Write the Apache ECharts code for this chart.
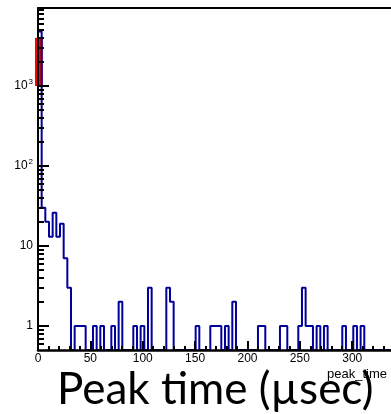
<!DOCTYPE html>
<html><head><meta charset="utf-8">
<script src="https://cdn.jsdelivr.net/npm/echarts@6/dist/echarts.min.js"></script>
<style>html,body{margin:0;padding:0;background:#fff;}#c{width:391px;height:414px;}</style>
</head><body><div id="c"></div>
<script>
// ---- data ----
const binWidth = 3.5;
const binStart = 0;
const counts = [
  4800, 30, 20, 13, 26, 13, 19, 7, 3, 0,   // 0-9
  1, 1, 1, 0, 0, 1, 0, 1, 0, 0,            // 10-19
  1, 0, 2, 0, 0, 0, 1, 0, 1, 0,            // 20-29
  3, 0, 0, 0, 0, 3, 2, 0, 0, 0,            // 30-39
  0, 0, 0, 1, 0, 0, 0, 1, 1, 1,            // 40-49
  0, 1, 0, 2, 0, 0, 0, 0, 0, 0,            // 50-59
  1, 1, 0, 0, 0, 0, 1, 1, 0, 0,            // 60-69
  0, 1, 3, 1, 1, 0, 1, 0, 1, 0,            // 70-79
  0, 0, 0, 1, 0, 0, 1, 0, 1, 0,            // 80-89
  0, 0, 0, 0, 0, 0, 0                      // 90-96
];
const redBox = [[-2.9, 4.5, 1000, 4000]];
const xLabelValues = [0, 50, 100, 150, 200, 250, 300];
const xMinorValues = [10, 20, 30, 40, 60, 70, 80, 90, 110, 120, 130, 140, 160, 170, 180, 190, 210, 220, 230, 240, 260, 270, 280, 290, 310, 320, 330];
const yMajorValues = [1, 10, 100, 1000];
const yMajorLabels = ['1', '10', '10{s|2}', '10{s|3}'];
const yMinorValues = [0.6, 0.7, 0.8, 0.9, 2, 3, 4, 5, 6, 7, 8, 9, 20, 30, 40, 50, 60, 70, 80, 90, 200, 300, 400, 500, 600, 700, 800, 900, 2000, 3000, 4000, 5000, 6000, 7000, 8000, 9000];
const xMin = 0, xMax = 337;
const yMin = 0.5, yMax = 9440;
const xTitle = 'peak_time';
const bigTitle = 'Peak time (µsec)';

// ---- build step outline ----
const steps = [[binStart, yMin]];
counts.forEach((c, i) => {
  const v = Math.max(c, yMin);
  steps.push([binStart + i * binWidth, v]);
  steps.push([binStart + (i + 1) * binWidth, v]);
});

const chart = echarts.init(document.getElementById('c'), null, {renderer: 'canvas'});
const F = 'Liberation Sans, Arial, sans-serif';
chart.setOption({
  animation: false,
  backgroundColor: '#fff',
  grid: {left: 38, right: 0, top: 8, bottom: 64, containLabel: false},
  xAxis: [
    {type: 'value', min: xMin, max: xMax, position: 'bottom', z: 5,
     axisLine: {show: true, onZero: false, lineStyle: {color: '#000', width: 2.5}},
     axisTick: {show: true, inside: true, length: 9, lineStyle: {color: '#000', width: 2}, customValues: xLabelValues},
     axisLabel: {show: true, customValues: xLabelValues, color: '#000', fontFamily: F, fontSize: 12, margin: 3},
     splitLine: {show: false}},
    {type: 'value', min: xMin, max: xMax, position: 'bottom', z: 5,
     axisLine: {show: false},
     axisTick: {show: true, inside: true, length: 4, lineStyle: {color: '#000', width: 2}, customValues: xMinorValues},
     axisLabel: {show: false}, splitLine: {show: false}},
    {type: 'value', min: xMin, max: xMax, position: 'top', z: 5,
     axisLine: {show: true, onZero: false, lineStyle: {color: '#000', width: 2}},
     axisTick: {show: false}, axisLabel: {show: false}, splitLine: {show: false}}
  ],
  yAxis: [
    {type: 'log', logBase: 10, min: yMin, max: yMax, position: 'left', z: 5,
     axisLine: {show: true, onZero: false, lineStyle: {color: '#000', width: 2}},
     axisTick: {show: true, inside: true, length: 11, lineStyle: {color: '#000', width: 2}, customValues: yMajorValues},
     axisLabel: {show: true, customValues: yMajorValues, color: '#000', fontFamily: F, fontSize: 12, margin: 5,
       formatter: function (v) { const i = yMajorValues.indexOf(v); return i >= 0 ? yMajorLabels[i] : ''; },
       rich: {s: {fontSize: 8, fontFamily: F, color: '#000', padding: [0, 0, 8, 1]}}},
     splitLine: {show: false}},
    {type: 'log', logBase: 10, min: yMin, max: yMax, position: 'left', z: 5,
     axisLine: {show: false},
     axisTick: {show: true, inside: true, length: 6, lineStyle: {color: '#000', width: 2}, customValues: yMinorValues},
     axisLabel: {show: false}, splitLine: {show: false}}
  ],
  series: [
    {type: 'custom', xAxisIndex: 0, yAxisIndex: 0, z: 1, clip: false,
     encode: {x: [0, 1], y: [2, 3]},
     data: redBox,
     emphasis: {disabled: true},
     renderItem: function (params, api) {
       const p1 = api.coord([api.value(0), api.value(3)]);
       const p2 = api.coord([api.value(1), api.value(2)]);
       return {type: 'rect', shape: {x: p1[0], y: p1[1], width: p2[0] - p1[0], height: p2[1] - p1[1]},
               style: {fill: '#ff0000', opacity: 1}};
     }},
    {type: 'line', xAxisIndex: 0, yAxisIndex: 0, data: steps, showSymbol: false, symbol: 'none',
     lineStyle: {color: '#00009a', width: 2}, clip: true, z: 3, emphasis: {disabled: true}}
  ],
  graphic: [
    {type: 'text', left: 57, top: 368, z: 10, style: {text: bigTitle, font: '44px Lato, sans-serif', fill: '#000'}},
    {type: 'text', left: 327, top: 368, z: 11, style: {text: xTitle, font: '13px Liberation Sans, Arial, sans-serif', fill: '#000'}}
  ]
});
</script></body></html>
